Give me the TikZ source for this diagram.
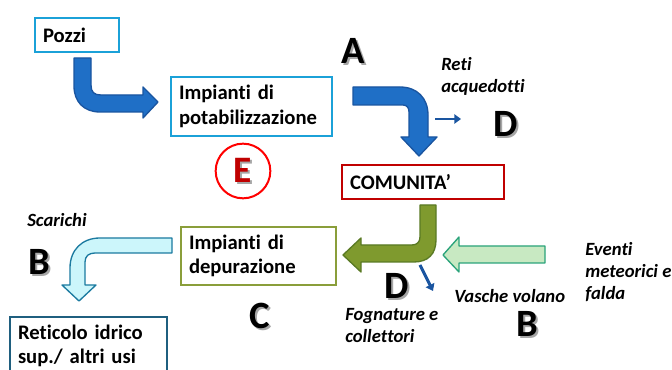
\documentclass[tikz,border=0pt]{standalone}
\usepackage{fontspec}
\setmainfont{Carlito}[Ligatures=NoCommon]
\usepackage{tikz}
\usetikzlibrary{arrows.meta}

\definecolor{boxblue}{HTML}{1BA1D8}
\definecolor{comred}{HTML}{C00000}
\definecolor{depgreen}{HTML}{8A9E3A}
\definecolor{retteal}{HTML}{1F5F7F}
\definecolor{arrblue}{HTML}{1F6FC6}
\definecolor{arrblueD}{HTML}{1A55A0}
\definecolor{arrolive}{HTML}{7F9A2E}
\definecolor{arroliveD}{HTML}{5A7A24}
\definecolor{arrmint}{HTML}{C8E9C2}
\definecolor{arrmintD}{HTML}{2AA37A}
\definecolor{arrcyan}{HTML}{CCF6FB}
\definecolor{arrcyanD}{HTML}{1B7AA0}

% letter with a grey shadow
\newcommand{\shd}[1]{\makebox[0pt][l]{\hspace{1.5pt}\raisebox{-1.5pt}{\color{black!35}#1}}#1}

\begin{document}
\begin{tikzpicture}[x=0.75pt,y=-0.75pt,%
        box/.style={draw, line width=1.5pt, rectangle, anchor=north west,%
                        align=left, inner xsep=6pt, inner ysep=0pt,%
                        font=\bfseries\fontsize{15.5}{18.5}\selectfont},
        lab/.style={font=\bfseries\itshape\fontsize{14}{16.5}\selectfont,%
                        align=left, anchor=west, inner sep=0pt},
        big/.style={font=\bfseries\fontsize{29}{30}\selectfont, inner sep=0pt},
        bent/.style={line width=1pt, line join=round},
        tiny/.style={draw=arrblueD, line width=2.2pt,%
                        -{Triangle[length=5pt,width=7pt]}}]
\clip (0,0) rectangle (672,370);
\fill[white] (0,0) rectangle (672,370);

% boxes
\node[box, draw=boxblue, text width=51pt, minimum height=25.5pt] (pozzi) at (34,17) {Pozzi};
\node[box, draw=boxblue, text width=108.75pt, minimum height=44.25pt] (potab) at (170,76)
    {Impianti di\\potabilizzazione};
\node[box, draw=comred, text width=109.5pt, minimum height=25.5pt] (comunita) at (341,164)
    {COMUNITA'};
\node[box, draw=depgreen, text width=104.25pt, minimum height=43.5pt] (depur) at (180,226)
    {Impianti di\\depurazione};
\node[box, draw=retteal, text width=105.75pt, minimum height=43.5pt] (reticolo) at (9,316)
    {Reticolo idrico\\sup./ altri usi};

% bent arrows
\draw[bent, fill=arrblue, draw=arrblueD]
    (74,58) -- (91,58) -- (91,85) .. controls (91,92) and (94,95) .. (101,95)
    -- (143,95) -- (143,87) -- (158,102) -- (143,118) -- (143,112) -- (100,112)
    .. controls (84,112) and (74,102) .. (74,86) -- cycle;
\draw[bent, fill=arrblue, draw=arrblueD]
    (353,87) -- (400,87) .. controls (417,87) and (428,98) .. (428,115)
    -- (428,137) -- (437,137) -- (419,156) -- (401,137) -- (409,137) -- (409,112)
    .. controls (409,108) and (407,105) .. (403,105) -- (353,105) -- cycle;
\draw[bent, fill=arrolive, draw=arroliveD]
    (420,205) -- (436,205) -- (436,240) .. controls (436,254) and (428,262) .. (414,262)
    -- (361,262) -- (361,272) -- (343,255) -- (361,238) -- (361,245) -- (412,245)
    .. controls (417,245) and (420,242) .. (420,237) -- cycle;
\draw[bent, fill=arrmint, draw=arrmintD]
    (545,246) -- (459,246) -- (459,237) -- (443,255) -- (459,272) -- (459,263)
    -- (545,263) -- cycle;
\draw[bent, fill=arrcyan, draw=arrcyanD]
    (172,238) -- (100,238) .. controls (82,238) and (70,250) .. (70,268)
    -- (70,285) -- (62,285) -- (79,301) -- (96,285) -- (85,285) -- (85,262)
    .. controls (85,256) and (89,253) .. (95,253) -- (172,253) -- cycle;

% small arrows
\coordinate (ret1) at (435,119);
\coordinate (ret2) at (461,119);
\draw[tiny] (ret1) -- (ret2);
\coordinate (fog1) at (420,265);
\coordinate (fog2) at (433,291);
\draw[tiny] (fog1) -- (fog2);

% the E
\node[circle, draw=red, line width=1.5pt, minimum size=41pt, inner sep=0pt,%
      text=comred, font=\bfseries\fontsize{28}{30}\selectfont] (ecirc) at (243,171) {\shd{E}};

% letters
\node[big] (la) at (353,52) {\shd{A}};
\node[big] (ld1) at (506,125) {\shd{D}};
\node[big] (ld2) at (397,287) {\shd{D}};
\node[big] (lb1) at (39,263) {\shd{B}};
\node[big] (lb2) at (527,325) {\shd{B}};
\node[big] (lc) at (260,317) {\shd{C}};

% labels
\node[lab] (reti) at (441,76) {Reti\\acquedotti};
\node[lab] (scar) at (27,220) {Scarichi};
\node[lab] (fogn) at (345,326) {Fognature e\\collettori};
\node[lab] (vasc) at (454,296) {Vasche volano};
\node[lab] (even) at (585,272) {Eventi\\meteorici e\\falda};
\end{tikzpicture}
\end{document}
